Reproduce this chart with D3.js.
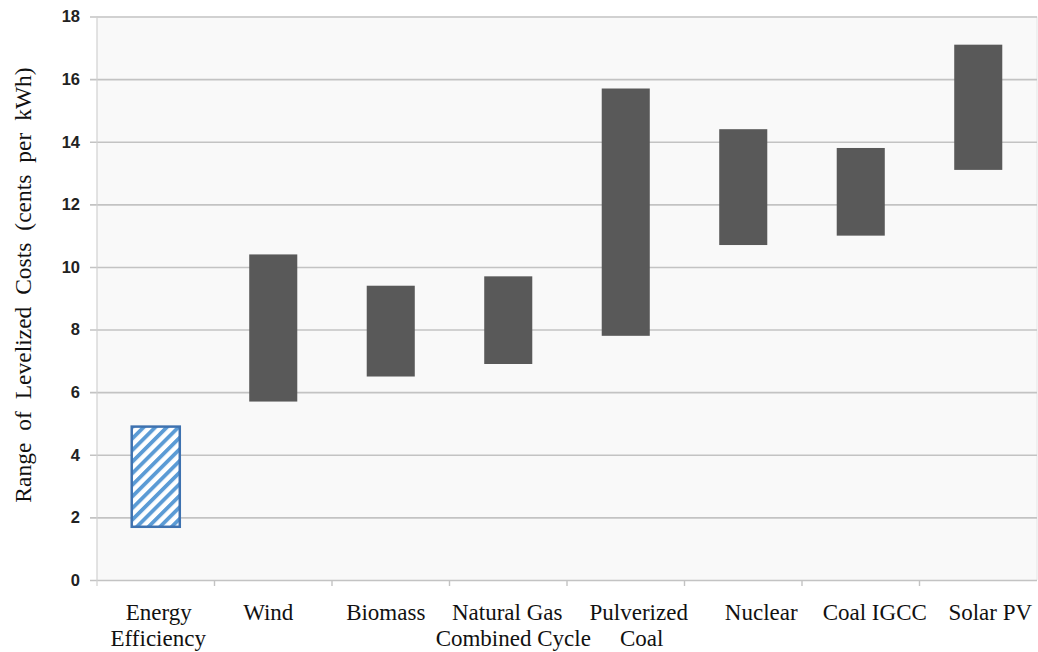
<!DOCTYPE html>
<html>
<head>
<meta charset="utf-8">
<script src="https://cdn.jsdelivr.net/npm/d3@7"></script>
<style>
  html, body { margin: 0; padding: 0; background: #ffffff; }
  svg { display: block; }
</style>
</head>
<body>
<svg id="chart" width="1038" height="652"></svg>
<script>
// Levelized cost ranges by generation resource (cents per kWh)
const categories = ["Energy Efficiency", "Wind", "Biomass", "Natural Gas Combined Cycle",
                    "Pulverized Coal", "Nuclear", "Coal IGCC", "Solar PV"];
const labelLines = [["Energy", "Efficiency"], ["Wind"], ["Biomass"], ["Natural Gas", "Combined Cycle"],
                    ["Pulverized", "Coal"], ["Nuclear"], ["Coal IGCC"], ["Solar PV"]];
const lowValues  = [1.7, 5.7, 6.5, 6.9, 7.8, 10.7, 11.0, 13.1];
const highValues = [4.9, 10.4, 9.4, 9.7, 15.7, 14.4, 13.8, 17.1];
const yTicks = [0, 2, 4, 6, 8, 10, 12, 14, 16, 18];
const yTitle = "Range of Levelized Costs (cents per kWh)";

// layout
const plot = { left: 97, right: 1037, top: 16.5, bottom: 580 };
// horizontal nudges for the category captions, one per line
const labelNudge = [[3, 2.5], [-5], [-5], [-1, 5], [13, 16], [18], [14], [12]];

const svg = d3.select("#chart");

const x = d3.scaleBand()
  .domain(categories)
  .range([plot.left, plot.right])
  .paddingInner(0.591)
  .paddingOuter(0.2955);

const y = d3.scaleLinear()
  .domain([0, 18])
  .range([plot.bottom, plot.top]);

// hatch fill for the efficiency bar
const defs = svg.append("defs");
const pat = defs.append("pattern")
  .attr("id", "hatch")
  .attr("patternUnits", "userSpaceOnUse")
  .attr("width", 8.2)
  .attr("height", 8.2)
  .attr("patternTransform", "rotate(45)");
pat.append("rect").attr("width", 8.2).attr("height", 8.2).attr("fill", "#ffffff");
pat.append("rect").attr("x", 0).attr("y", 0).attr("width", 3.8).attr("height", 8.2).attr("fill", "#5b9bd5");

// plot background
svg.append("rect")
  .attr("x", plot.left)
  .attr("y", plot.top)
  .attr("width", plot.right - plot.left)
  .attr("height", plot.bottom - plot.top)
  .attr("fill", "#f9f9f9");

svg.append("line")
  .attr("x1", plot.right).attr("x2", plot.right)
  .attr("y1", plot.top).attr("y2", plot.bottom)
  .attr("stroke", "#e4e4e4").attr("stroke-width", 1);

// y axis: gridlines with short outer ticks
const yAxis = d3.axisLeft(y)
  .tickValues(yTicks)
  .tickSize(-(plot.right - plot.left) - 7)
  .tickPadding(10)
  .tickFormat(d3.format("d"));

const gy = svg.append("g")
  .attr("transform", `translate(${plot.right},0)`)
  .call(yAxis);
gy.select(".domain").remove();
gy.selectAll(".tick line")
  .attr("x1", 0)
  .attr("x2", -(plot.right - plot.left) - 7)
  .attr("stroke", "#c3c3c3")
  .attr("stroke-width", 1.6);
gy.selectAll(".tick text")
  .attr("x", -(plot.right - plot.left) - 17)
  .attr("font-family", "Liberation Sans, Arial, sans-serif")
  .attr("font-weight", "bold")
  .attr("font-size", 16.5)
  .attr("fill", "#222222");

// left axis line
svg.append("line")
  .attr("x1", plot.left).attr("x2", plot.left)
  .attr("y1", plot.top).attr("y2", plot.bottom + 6)
  .attr("stroke", "#d0d0d0").attr("stroke-width", 1.2);

// category boundary ticks under the baseline
const boundaries = categories.slice(1).map(c => x(c) - (x.step() - x.bandwidth()) / 2);
svg.append("g").selectAll("line")
  .data(boundaries)
  .join("line")
  .attr("x1", d => d).attr("x2", d => d)
  .attr("y1", plot.bottom).attr("y2", plot.bottom + 6)
  .attr("stroke", "#c3c3c3").attr("stroke-width", 1.4);

// range bars
const rows = categories.map((c, i) => ({ c, lo: lowValues[i], hi: highValues[i], i }));

svg.append("g").selectAll("rect")
  .data(rows)
  .join("rect")
  .attr("x", d => x(d.c))
  .attr("y", d => y(d.hi))
  .attr("width", x.bandwidth())
  .attr("height", d => y(d.lo) - y(d.hi))
  .attr("fill", d => d.i === 0 ? "url(#hatch)" : "#595959")
  .attr("stroke", d => d.i === 0 ? "#3e72b0" : "none")
  .attr("stroke-width", d => d.i === 0 ? 2.5 : 0);

// category captions
const cap = svg.append("g")
  .attr("font-family", "Liberation Serif, Times New Roman, serif")
  .attr("font-size", 23)
  .attr("fill", "#111111")
  .attr("text-anchor", "middle");

rows.forEach(d => {
  const cx = x(d.c) + x.bandwidth() / 2;
  const t = cap.append("text");
  labelLines[d.i].forEach((line, k) => {
    t.append("tspan")
      .attr("x", cx + labelNudge[d.i][k])
      .attr("y", 619.5 + k * 26)
      .text(line);
  });
});

// y axis title
svg.append("text")
  .attr("transform", "translate(31,285) rotate(-90)")
  .attr("text-anchor", "middle")
  .attr("font-family", "Liberation Serif, Times New Roman, serif")
  .attr("font-size", 23.5)
  .attr("word-spacing", "6px")
  .attr("fill", "#111111")
  .text(yTitle);
</script>
</body>
</html>
